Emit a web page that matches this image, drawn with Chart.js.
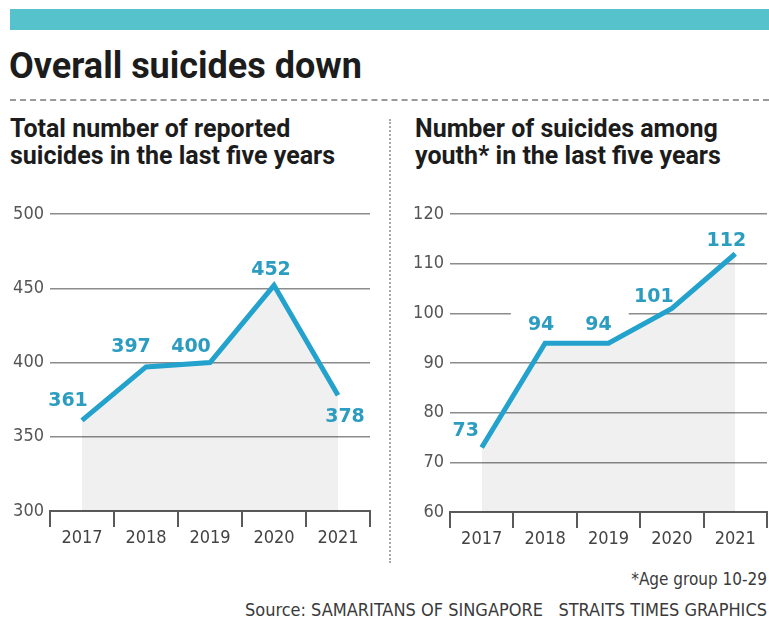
<!DOCTYPE html>
<html>
<head>
<meta charset="utf-8">
<script src="https://cdn.jsdelivr.net/npm/chart.js@4/dist/chart.umd.min.js"></script>
<style>
  html, body { margin: 0; padding: 0; background: #fff; }
  #page { position: relative; width: 769px; height: 619px; overflow: hidden; background: #fff; }
  .bar { position: absolute; left: 10px; top: 9px; width: 759px; height: 21px; background: #55c2cc; }
  .title { position: absolute; left: 9px; top: 48px; margin: 0; font: 700 36px/1 Roboto, "Noto Sans", sans-serif; color: #1c1c1c; white-space: nowrap; }
  .rule { position: absolute; left: 10px; top: 99px; width: 759px; height: 0; border-top: 2px dashed #9a9a9a; }
  .vrule { position: absolute; left: 389px; top: 119px; width: 0; height: 444px; border-left: 2px dotted #a8a8a8; }
  .sub { position: absolute; margin: 0; font: 700 25px/27px Roboto, "Noto Sans", sans-serif; color: #1c1c1c; white-space: nowrap; }
  .note { position: absolute; right: 2px; margin: 0; font: 400 17px/1 "Liberation Sans Narrow", "DejaVu Sans Condensed", sans-serif; color: #3a3a3a; white-space: pre; }
  canvas { position: absolute; }
</style>
</head>
<body>
<div id="page">
  <div class="bar"></div>
  <h1 class="title">Overall suicides down</h1>
  <div class="rule"></div>
  <div class="vrule"></div>
  <p class="sub" style="left:10px; top:115px;">Total number of reported<br>suicides in the last five years</p>
  <p class="sub" style="left:415px; top:115px;">Number of suicides among<br>youth* in the last five years</p>
  <canvas id="totalChart" width="390" height="365" style="left:0; top:195px;"></canvas>
  <canvas id="youthChart" width="377" height="365" style="left:392px; top:195px;"></canvas>
  <p class="note" style="top:571px;">*Age group 10-29</p>
  <p class="note" style="top:601px; font-size:18px;">Source: SAMARITANS OF SINGAPORE   STRAITS TIMES GRAPHICS</p>
</div>
<script>
// Data
const years = ['2017', '2018', '2019', '2020', '2021'];
const totalSuicides = [361, 397, 400, 452, 378];
const youthSuicides = [73, 94, 94, 101, 112];
const totalTicks = [300, 350, 400, 450, 500];
const youthTicks = [60, 70, 80, 90, 100, 110, 120];

// Label placement relative to each point (pixels)
const totalLabelOffsets = [[-14, -20], [-15, -21], [-19, -16], [-3, -16], [7, 21]];
const youthLabelOffsets = [[-16, -17], [-4, -19], [-10, -19], [-18, -12], [-9, -14]];

const LINE_COLOR = '#22a2cc';
const LABEL_COLOR = '#2c9dc1';
const TICK_FONT = { family: '"Liberation Sans Narrow", "DejaVu Sans Condensed", sans-serif', size: 18 };
const LABEL_FONT = 'bold 19px "DejaVu Sans", sans-serif';

// Value labels: white knock-outs under the line, text on top
const valueLabels = {
  id: 'valueLabels',
  _boxes(chart, opts) {
    const meta = chart.getDatasetMeta(0);
    const values = chart.data.datasets[0].data;
    const ctx = chart.ctx;
    ctx.save();
    ctx.font = LABEL_FONT;
    const out = meta.data.map((pt, i) => {
      const txt = String(values[i]);
      const w = ctx.measureText(txt).width;
      const off = opts.offsets[i];
      return { txt, w, x: pt.x + off[0], y: pt.y + off[1] };
    });
    ctx.restore();
    return out;
  },
  beforeDatasetsDraw(chart, args, opts) {
    const ctx = chart.ctx;
    const a = chart.chartArea;
    ctx.save();
    ctx.beginPath();
    ctx.rect(a.left, a.top, a.right - a.left, a.bottom - a.top);
    ctx.clip();
    ctx.fillStyle = '#ffffff';
    this._boxes(chart, opts).forEach(b => {
      ctx.fillRect(b.x - b.w / 2 - opts.pad, b.y - 15, b.w + 2 * opts.pad, 27);
    });
    ctx.restore();
  },
  afterDatasetsDraw(chart, args, opts) {
    const ctx = chart.ctx;
    ctx.save();
    ctx.font = LABEL_FONT;
    ctx.fillStyle = LABEL_COLOR;
    ctx.textAlign = 'center';
    ctx.textBaseline = 'middle';
    this._boxes(chart, opts).forEach(b => ctx.fillText(b.txt, b.x, b.y + 1));
    ctx.restore();
  }
};

function makeChart(id, values, ticks, offsets, pad, yWidth, xHeight, padRight) {
  return new Chart(document.getElementById(id), {
    type: 'line',
    data: {
      labels: years,
      datasets: [{
        data: values,
        borderColor: LINE_COLOR,
        borderWidth: 5,
        borderJoinStyle: 'miter',
        pointRadius: 0,
        tension: 0,
        fill: 'start',
        backgroundColor: 'rgba(0,0,0,0.06)'
      }]
    },
    options: {
      responsive: false,
      animation: false,
      layout: { padding: { top: 19, right: padRight, left: 0, bottom: 0 } },
      plugins: {
        legend: { display: false },
        tooltip: { enabled: false },
        valueLabels: { offsets, pad }
      },
      scales: {
        x: {
          offset: true,
          grid: { offset: true, drawOnChartArea: false, drawTicks: true, tickLength: 16, color: '#5a5a5a', lineWidth: 2 },
          border: { display: true, color: '#5a5a5a', width: 2 },
          ticks: { padding: 1, color: '#444', font: TICK_FONT, maxRotation: 0 },
          afterFit(scale) { scale.height = xHeight; }
        },
        y: {
          min: ticks[0],
          max: ticks[ticks.length - 1],
          afterBuildTicks(scale) { scale.ticks = ticks.map(v => ({ value: v })); },
          grid: { color: '#8c8c8c', lineWidth: 1.5, drawTicks: false },
          border: { display: false },
          ticks: { padding: 6, color: '#555', font: TICK_FONT },
          afterFit(scale) { scale.width = yWidth; }
        }
      }
    },
    plugins: [valueLabels]
  });
}

makeChart('totalChart', totalSuicides, totalTicks, totalLabelOffsets, 10, 50, 49, 20);
makeChart('youthChart', youthSuicides, youthTicks, youthLabelOffsets, 17, 58, 48, 2);
</script>
</body>
</html>
